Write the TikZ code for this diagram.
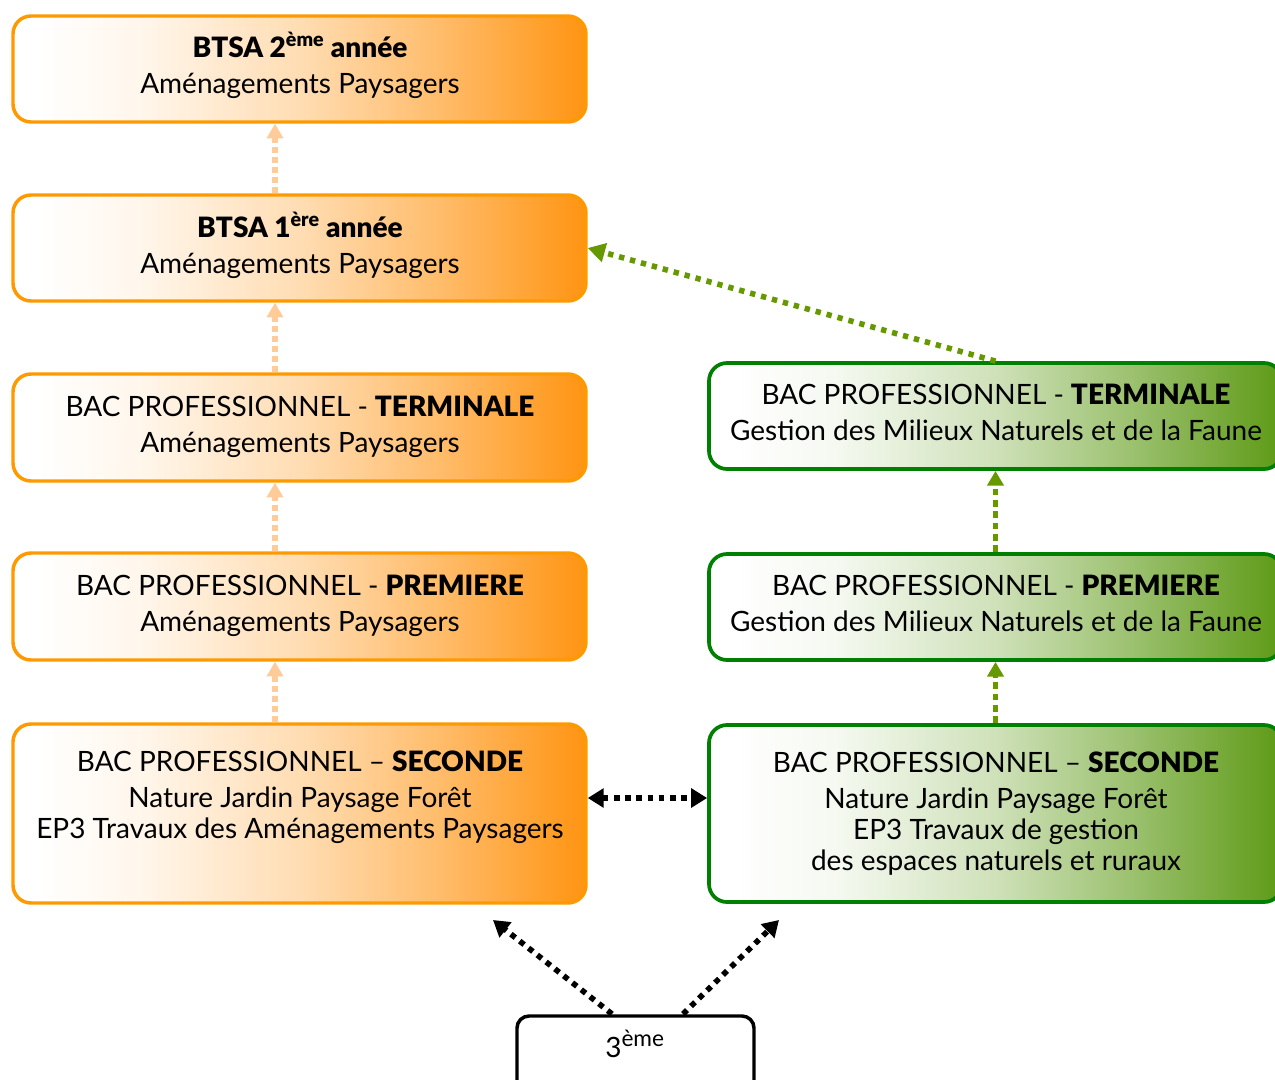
\documentclass[tikz,border=0pt]{standalone}
\usepackage{fontspec}
\setmainfont{Lato}[BoldFont={* Black}]
\usetikzlibrary{arrows.meta}
\definecolor{orB}{HTML}{FF9900}
\definecolor{orF}{HTML}{FF9412}
\definecolor{orA}{HTML}{FFCC99}
\definecolor{grB}{HTML}{008000}
\definecolor{grF}{HTML}{5E9A16}
\definecolor{grA}{HTML}{669900}
\colorlet{orM1}{orF!8!white}
\colorlet{orM2}{orF!32!white}
\colorlet{orM3}{orF!62!white}
\colorlet{grM1}{grF!6!white}
\colorlet{grM2}{grF!30!white}
\colorlet{grM3}{grF!62!white}
\pgfdeclarehorizontalshading{orshade}{100bp}{color(0bp)=(white); color(27bp)=(white); color(36bp)=(orM1); color(50bp)=(orM2); color(62bp)=(orM3); color(75bp)=(orF); color(100bp)=(orF)}
\pgfdeclarehorizontalshading{grshade}{100bp}{color(0bp)=(white); color(27bp)=(white); color(36bp)=(grM1); color(50bp)=(grM2); color(62bp)=(grM3); color(75bp)=(grF); color(100bp)=(grF)}
\tikzset{
  box/.style={rectangle, rounded corners=13.5pt, minimum width=429.75pt, inner sep=0pt},
  orbox/.style={box, shade, shading=orshade, draw=orB, line width=2.6pt},
  grbox/.style={box, shade, shading=grshade, draw=grB, line width=2.8pt},
  lbl/.style={anchor=base, align=center, inner sep=0pt, font=\fontsize{21pt}{27pt}\selectfont},
  oarrow/.style={draw=orA, line width=4.2pt, dash pattern=on 4.5pt off 3pt, -{Triangle[length=11pt,width=12pt]}},
  garrow/.style={draw=grA, line width=4.2pt, dash pattern=on 5pt off 3.5pt, -{Triangle[length=11pt,width=12pt]}},
  gdiag/.style={draw=grA, line width=4.2pt, dash pattern=on 4pt off 4.5pt, -{Triangle[length=13pt,width=14pt]}},
  barrow/.style={draw=black, line width=4.2pt, dash pattern=on 4.2pt off 4.2pt, -{Triangle[length=12pt,width=14pt]}},
  bdouble/.style={draw=black, line width=4.2pt, dash pattern=on 4.2pt off 4.2pt, {Triangle[length=12pt,width=14pt]}-{Triangle[length=12pt,width=14pt]}},
}
\begin{document}
\begin{tikzpicture}[x=0.75pt, y=-0.75pt]
\useasboundingbox (0,0) rectangle (1275,1079);
\clip (0,0) rectangle (1275,1079);
% left column boxes
\node[orbox, minimum height=79.5pt]   (a1) at (299.5,69) {};
\node[orbox, minimum height=79.5pt]   (a2) at (299.5,248) {};
\node[orbox, minimum height=80.25pt]  (a3) at (299.5,427.5) {};
\node[orbox, minimum height=80.25pt]  (a4) at (299.5,606.5) {};
\node[orbox, minimum height=134.25pt] (a5) at (299.5,813.5) {};
% right column boxes
\node[grbox, minimum height=79.5pt]   (g1) at (995.5,416) {};
\node[grbox, minimum height=79.5pt]   (g2) at (995.5,607) {};
\node[grbox, minimum height=132.75pt] (g3) at (995.5,813.5) {};
% bottom box
\node[rectangle, rounded corners=9pt, draw=black, line width=2.6pt, fill=white,
      minimum width=177.75pt, minimum height=70.5pt, inner sep=0pt] (trois) at (635.5,1063) {};
% texts (anchor = baseline of the last line)
\node[lbl] (ta1) at (300,93) {\textbf{BTSA 2\textsuperscript{ème} année}\\Aménagements Paysagers};
\node[lbl] (ta2) at (300,273) {\textbf{BTSA 1\textsuperscript{ère} année}\\Aménagements Paysagers};
\node[lbl] (ta3) at (300,452) {BAC PROFESSIONNEL - \textbf{TERMINALE}\\Aménagements Paysagers};
\node[lbl] (ta4) at (300,631) {BAC PROFESSIONNEL - \textbf{PREMIERE}\\Aménagements Paysagers};
\node[lbl] (ta5) at (300,838) {BAC PROFESSIONNEL – \textbf{SECONDE}\\Nature Jardin Paysage Forêt\\[-3.75pt]EP3 Travaux des Aménagements Paysagers};
\node[lbl] (tg1) at (996,440) {BAC PROFESSIONNEL - \textbf{TERMINALE}\\Gestion des Milieux Naturels et de la Faune};
\node[lbl] (tg2) at (996,631) {BAC PROFESSIONNEL - \textbf{PREMIERE}\\Gestion des Milieux Naturels et de la Faune};
\node[lbl] (tg3) at (996,870) {BAC PROFESSIONNEL – \textbf{SECONDE}\\Nature Jardin Paysage Forêt\\[-3.75pt]EP3 Travaux de gestion\\[-3.75pt]des espaces naturels et ruraux};
\node[lbl] (t3) at (635,1057) {3\textsuperscript{\fontsize{17pt}{20pt}\selectfont ème}};
% connectors
\coordinate (col) at (275,0);
\coordinate (dbl) at (0,798);
\coordinate (e1) at (493,920);
\coordinate (e2) at (779,920);
\coordinate (s1) at (612,1014);
\coordinate (s2) at (683,1014);
\draw[oarrow] (a2.north -| col) -- (a1.south -| col);
\draw[oarrow] (a3.north -| col) -- (a2.south -| col);
\draw[oarrow] (a4.north -| col) -- (a3.south -| col);
\draw[oarrow] (a5.north -| col) -- (a4.south -| col);
\draw[garrow] (g2.north) -- (g1.south);
\draw[garrow] (g3.north) -- (g2.south);
\draw[gdiag] (g1.north) -- (a2.east);
\draw[bdouble] (a5.east |- dbl) -- (g3.west |- dbl);
\draw[barrow] (s1) -- (e1);
\draw[barrow] (s2) -- (e2);
\end{tikzpicture}
\end{document}
